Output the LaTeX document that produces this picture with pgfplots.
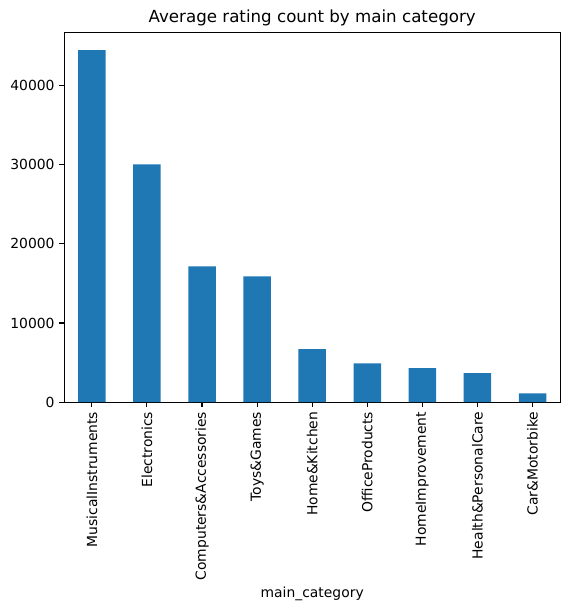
\documentclass[border=0pt]{standalone}
\usepackage{pgfplots}
\pgfplotsset{compat=1.18}
\usepackage{fontspec}
\setmainfont{DejaVu Sans}
\definecolor{mplblue}{HTML}{1F77B4}
\begin{document}
\begin{tikzpicture}
\begin{axis}[
  scale only axis,
  width=357pt, height=266pt,
  xmin=-0.5, xmax=8.5,
  ymin=0, ymax=46700,
  axis line style={line width=0.8pt},
  tick style={line width=0.8pt, black},
  tick align=outside,
  major tick length=3.5pt,
  xtick={0,...,8},
  xticklabels={MusicalInstruments,Electronics,Computers\&Accessories,Toys\&Games,Home\&Kitchen,OfficeProducts,HomeImprovement,Health\&PersonalCare,Car\&Motorbike},
  x tick label style={rotate=90, anchor=east, font=\fontsize{10}{12}\selectfont},
  ytick={0,10000,20000,30000,40000},
  y tick label style={font=\fontsize{10}{12}\selectfont},
  scaled y ticks=false,
  /pgf/number format/.cd, 1000 sep={}, assume math mode=true,
  /pgfplots/.cd,
  xtick pos=bottom, ytick pos=left,
  title={Average rating count by main category},
  title style={font=\fontsize{12}{14}\selectfont, yshift=-5pt},
  xlabel={main\_category},
  xlabel style={font=\fontsize{10}{12}\selectfont, yshift=2pt},
  ybar, bar width=0.5,
]
\addplot[fill=mplblue, draw=none] coordinates {
  (0,44500) (1,30050) (2,17150) (3,15900) (4,6700) (5,4900) (6,4300) (7,3650) (8,1100)
};
\end{axis}
\pgfresetboundingbox
\path (current axis.south west) ++(-46.3pt,-149pt) rectangle ([shift={(6.5pt,23.5pt)}]current axis.north east);
\end{tikzpicture}
\end{document}
